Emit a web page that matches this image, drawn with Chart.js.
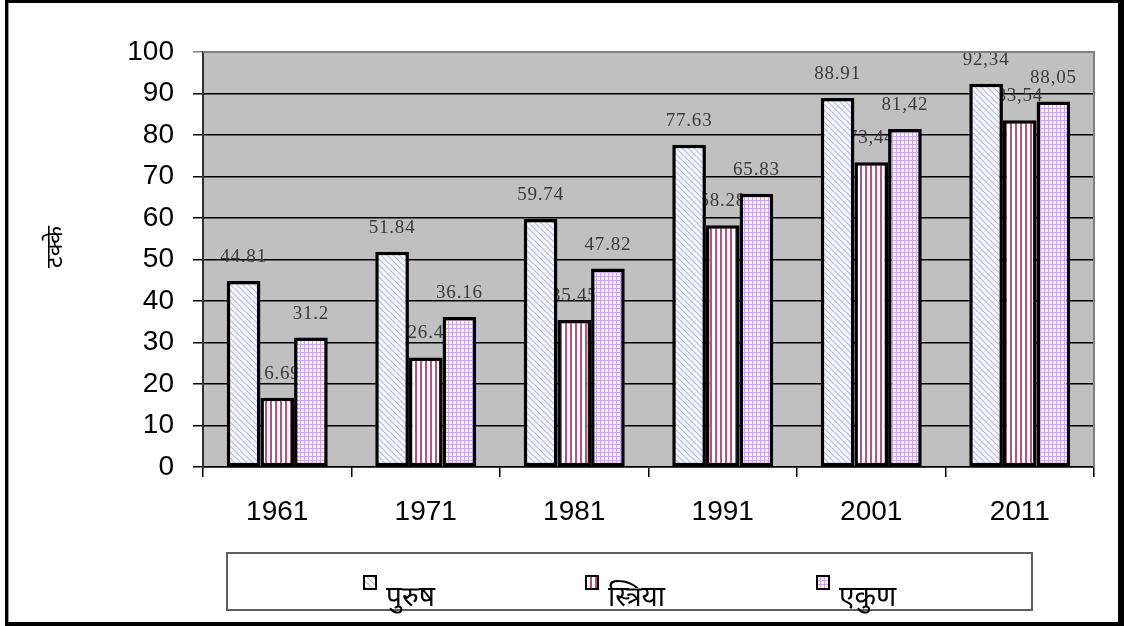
<!DOCTYPE html>
<html><head><meta charset="utf-8">
<script src="https://cdn.jsdelivr.net/npm/chart.js@4.4.0/dist/chart.umd.min.js"></script>
<style>html,body{margin:0;padding:0;background:#fff;} #wrap{width:1124px;height:626px;position:relative}</style>
</head><body><div id="wrap"><canvas id="c" width="1124" height="626"></canvas></div>
<script>
// ---- data ----
const years = ['1961', '1971', '1981', '1991', '2001', '2011'];
const seriesNames = ['पुरुष', 'स्त्रिया', 'एकुण'];
const male = [44.81, 51.84, 59.74, 77.63, 88.91, 92.34];
const female = [16.69, 26.4, 35.45, 58.28, 73.44, 83.54];
const total = [31.2, 36.16, 47.82, 65.83, 81.42, 88.05];
const maleLabels = ['44.81', '51.84', '59.74', '77.63', '88.91', '92,34'];
const femaleLabels = ['16.69', '26.4', '35.45', '58.28', '73,44', '83,54'];
const totalLabels = ['31.2', '36.16', '47.82', '65.83', '81,42', '88,05'];
const yMin = 0, yMax = 100, yStep = 10;
const yAxisTitle = 'टक्के';

const DEVA = "'Noto Sans Devanagari','Noto Serif Devanagari','Lohit Devanagari',Mangal,'FreeSerif','Noto Sans',sans-serif";

// ---- patterns ----
function makeTile(w, h, draw) {
  const c = document.createElement('canvas'); c.width = w; c.height = h;
  const g = c.getContext('2d'); draw(g, w, h);
  return document.getElementById('c').getContext('2d').createPattern(c, 'repeat');
}
const patDiag = makeTile(6, 6, (g, w, h) => {
  g.fillStyle = '#f8f8ff'; g.fillRect(0, 0, w, h);
  g.strokeStyle = '#b6b8f2'; g.lineWidth = 1.2;
  for (let k = -1; k <= 1; k++) { g.beginPath(); g.moveTo(k * w, 0); g.lineTo(k * w + w, h); g.stroke(); }
});
const patVert = makeTile(5, 4, (g, w, h) => {
  g.fillStyle = '#ffffff'; g.fillRect(0, 0, w, h);
  g.fillStyle = '#b5527e'; g.fillRect(0, 0, 2, h);
});
const patGrid = makeTile(4, 4, (g, w, h) => {
  g.fillStyle = '#fffbc8'; g.fillRect(0, 0, w, h);
  g.fillStyle = '#caa6f2'; g.fillRect(0, 0, w, 1); g.fillRect(0, 0, 1, h);
});
const patterns = [patDiag, patVert, patGrid];
const valueLabels = [maleLabels, femaleLabels, totalLabels];

const bgPlugin = {
  id: 'bg',
  beforeDraw(chart) {
    const { ctx, chartArea: a } = chart;
    ctx.save();
    ctx.fillStyle = '#fff'; ctx.fillRect(0, 0, chart.width, chart.height);
    ctx.fillStyle = '#c0c0c0'; ctx.fillRect(a.left, a.top, a.right - a.left, a.bottom - a.top);
    ctx.restore();
  },
  beforeDatasetsDraw(chart) {
    const { ctx } = chart;
    ctx.save();
    ctx.font = "19px 'Liberation Serif', 'Times New Roman', serif";
    try { ctx.letterSpacing = '0.8px'; } catch (e) {}
    ctx.fillStyle = '#3a3a3a';
    ctx.textAlign = 'center'; ctx.textBaseline = 'middle';
    chart.data.datasets.forEach((ds, i) => {
      chart.getDatasetMeta(i).data.forEach((el, j) => {
        ctx.fillText(valueLabels[i][j], el.x, el.y - 24);
      });
    });
    ctx.restore();
  },
  afterDraw(chart) {
    const { ctx, chartArea: a } = chart;
    ctx.save();
    // plot border top/right
    ctx.strokeStyle = '#808080'; ctx.lineWidth = 2;
    ctx.beginPath(); ctx.moveTo(a.left, a.top); ctx.lineTo(a.right, a.top); ctx.lineTo(a.right, a.bottom); ctx.stroke();
    // y title
    ctx.save();
    ctx.translate(58, 247); ctx.rotate(-Math.PI / 2);
    ctx.font = '23px ' + DEVA; ctx.fillStyle = '#000';
    ctx.textAlign = 'center'; ctx.textBaseline = 'middle';
    ctx.fillText(yAxisTitle, 0, 0);
    ctx.restore();
    // legend
    ctx.strokeStyle = '#606060'; ctx.lineWidth = 2;
    ctx.strokeRect(227, 553, 805, 57);
    const mx = [364, 586, 817];
    seriesNames.forEach((n, i) => {
      ctx.fillStyle = patterns[i];
      ctx.fillRect(mx[i], 576, 12, 13);
      ctx.strokeStyle = '#000'; ctx.lineWidth = 2;
      ctx.strokeRect(mx[i], 576, 12, 13);
      ctx.fillStyle = '#000';
      ctx.font = '28px ' + DEVA;
      ctx.textAlign = 'left'; ctx.textBaseline = 'alphabetic';
      ctx.fillText(n, mx[i] + 22, 606);
    });
    // outer frame
    ctx.fillStyle = '#000';
    ctx.fillRect(0, 0, 1124, 3);
    ctx.fillRect(5, 0, 3, 626);
    ctx.fillRect(1118, 0, 6, 626);
    ctx.fillRect(0, 622, 1124, 4);
    ctx.fillStyle = '#fff'; ctx.fillRect(0, 0, 5, 626);
    ctx.fillStyle = '#999'; ctx.fillRect(8, 3, 1, 619);
    ctx.restore();
  }
};

const datasets = [male, female, total].map((d, i) => ({
  label: seriesNames[i],
  data: d,
  backgroundColor: patterns[i],
  borderColor: '#000',
  borderWidth: 3.5,
  borderSkipped: false,
  barPercentage: 1,
  categoryPercentage: 0.68
}));

new Chart(document.getElementById('c'), {
  type: 'bar',
  data: { labels: years, datasets },
  options: {
    responsive: false,
    animation: false,
    devicePixelRatio: 1,
    layout: { padding: { left: 0, top: 52, right: 30, bottom: 0 } },
    plugins: { legend: { display: false }, tooltip: { enabled: false } },
    scales: {
      x: {
        offset: true,
        grid: { offset: true, drawOnChartArea: false, tickLength: 10, color: '#000', lineWidth: 1.5 },
        border: { color: '#000', width: 1.5 },
        ticks: { font: { family: "'Liberation Sans', Arial, sans-serif", size: 28 }, color: '#000', padding: 18 },
        afterFit(s) { s.height = 159; }
      },
      y: {
        min: yMin, max: yMax,
        ticks: { stepSize: yStep, padding: 19, font: { family: "'Liberation Sans', Arial, sans-serif", size: 28 }, color: '#000' },
        grid: { color: c => (c.tick && c.tick.value === yMax) ? '#808080' : '#000', lineWidth: 1.5, tickLength: 10 },
        border: { color: '#303030', width: 2 },
        afterFit(s) { s.width = 203; }
      }
    }
  },
  plugins: [bgPlugin]
});
</script></body></html>
